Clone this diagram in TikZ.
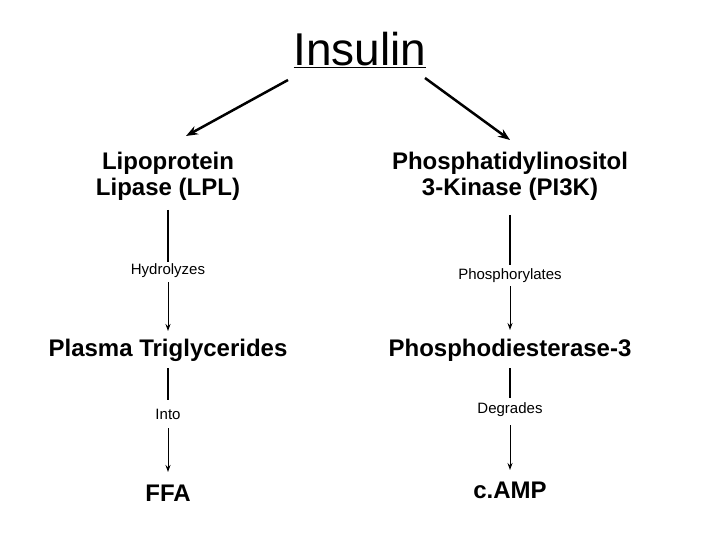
\documentclass[tikz,border=0pt]{standalone}
\usepackage{fontspec}
\setmainfont{Liberation Sans}
\usetikzlibrary{arrows.meta}
\begin{document}
\begin{tikzpicture}[x=1pt,y=-1pt,
 head/.style={font=\fontsize{24}{26}\selectfont\bfseries,align=center,inner sep=0},
 lab/.style={font=\fontsize{15}{17}\selectfont,inner sep=0},
 thick line/.style={line width=2pt},
 thin arrow/.style={line width=1pt,-{Stealth[length=7pt,width=5pt]}},
 big arrow/.style={line width=2.5pt,-{Stealth[length=12pt,width=9pt]}}]
\useasboundingbox (0,0) rectangle (720,540);
\node[font=\fontsize{46}{48}\selectfont,inner sep=0] (ins) at (360,50) {\underline{Insulin}};
\coordinate (il) at (288,80); \coordinate (ir) at (425,78);
\node[head] (lpl) at (168,176) {Lipoprotein\\Lipase (LPL)};
\node[head] (pi3k) at (510,176) {Phosphatidylinositol\\3-Kinase (PI3K)};
\draw[big arrow] (il) -- (186,136);
\draw[big arrow] (ir) -- (510,140);
\node[lab] (hyd) at (168,271) {Hydrolyzes};
\node[lab] (pho) at (510,276) {Phosphorylates};
\node[head] (pt) at (168,350) {Plasma Triglycerides};
\node[head] (pde) at (510,350) {Phosphodiesterase-3};
\node[lab] (into) at (168,414) {Into};
\node[lab] (deg) at (510,410) {Degrades};
\node[head] (ffa) at (168,493) {FFA};
\node[head] (camp) at (510,490) {c.AMP};
\draw[thick line] (168,210) -- (hyd.north|-168,262);
\draw[thin arrow] (168,282) -- (168,331);
\draw[thick line] (510,215) -- (510,265);
\draw[thin arrow] (510,286) -- (510,330);
\draw[thick line] (168,368) -- (168,400);
\draw[thin arrow] (168,428) -- (168,472);
\draw[thick line] (510,368) -- (510,398);
\draw[thin arrow] (510,425) -- (510,470);
\end{tikzpicture}
\end{document}
